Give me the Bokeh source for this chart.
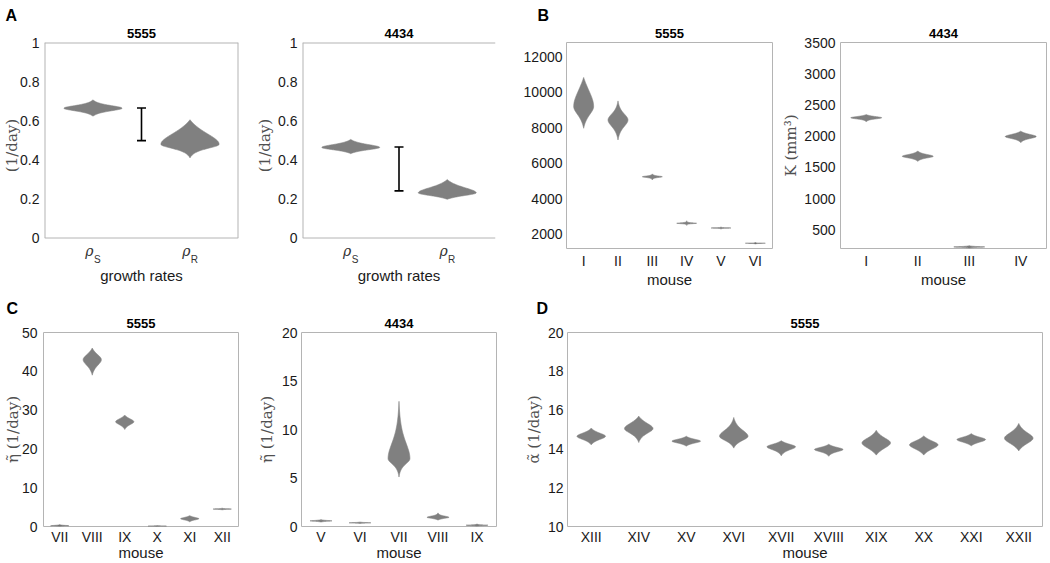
import numpy as np
from bokeh.plotting import figure
from bokeh.models import (Range1d, FixedTicker, Whisker, TeeHead, ColumnDataSource,
                          Title, LinearAxis)
from bokeh.layouts import row, column
from bokeh.embed import file_html
from bokeh.resources import INLINE

# ---------------- data ----------------
# A: growth rates
rate_subs = ["S", "R"]
a5555_lo = [0.622, 0.408]
a5555_lohalf = [0.646, 0.452]
a5555_mode = [0.663, 0.478]
a5555_hihalf = [0.680, 0.545]
a5555_hi = [0.706, 0.604]
a5555_err = [0.497, 0.664]

a4434_lo = [0.430, 0.196]
a4434_lohalf = [0.447, 0.212]
a4434_mode = [0.462, 0.229]
a4434_hihalf = [0.480, 0.262]
a4434_hi = [0.503, 0.297]
a4434_err = [0.239, 0.464]

a_yticks = [0, 0.2, 0.4, 0.6, 0.8, 1]
a_yticklabels = ["0", "0.2", "0.4", "0.6", "0.8", "1"]

# B: carrying capacity K
b5555_mice = ["I", "II", "III", "IV", "V", "VI"]
b5555_lo = [7970, 7310, 5060, 2500, 2300, 1450]
b5555_lohalf = [8630, 7970, 5190, 2595, 2340, 1485]
b5555_mode = [9195, 8440, 5240, 2620, 2355, 1495]
b5555_hihalf = [10220, 8870, 5290, 2650, 2370, 1505]
b5555_hi = [10830, 9510, 5400, 2760, 2410, 1545]
b5555_yticks = [2000, 4000, 6000, 8000, 10000, 12000]

b4434_mice = ["I", "II", "III", "IV"]
b4434_lo = [2230, 1596, 205, 1897]
b4434_lohalf = [2272, 1645, 218, 1955]
b4434_mode = [2294, 1677, 225, 1993]
b4434_hihalf = [2318, 1712, 232, 2035]
b4434_hi = [2345, 1763, 245, 2079]
b4434_yticks = [500, 1000, 1500, 2000, 2500, 3000, 3500]

# C: eta tilde
c5555_mice = ["VII", "VIII", "IX", "X", "XI", "XII"]
c5555_lo = [0.0, 39.0, 25.0, 0.0, 1.2, 4.3]
c5555_lohalf = [0.1, 41.2, 26.1, 0.05, 1.65, 4.42]
c5555_mode = [0.2, 43.0, 27.0, 0.1, 2.0, 4.5]
c5555_hihalf = [0.3, 44.6, 27.9, 0.15, 2.4, 4.58]
c5555_hi = [0.5, 46.0, 28.7, 0.25, 2.8, 4.7]
c5555_yticks = [0, 10, 20, 30, 40, 50]

c4434_mice = ["V", "VI", "VII", "VIII", "IX"]
c4434_lo = [0.45, 0.30, 5.1, 0.65, 0.03]
c4434_lohalf = [0.53, 0.35, 6.3, 0.82, 0.09]
c4434_mode = [0.58, 0.38, 7.0, 0.95, 0.13]
c4434_hihalf = [0.63, 0.41, 9.1, 1.1, 0.17]
c4434_hi = [0.72, 0.46, 12.9, 1.4, 0.25]
c4434_yticks = [0, 5, 10, 15, 20]

# D: alpha tilde
d_mice = ["XIII", "XIV", "XV", "XVI", "XVII", "XVIII", "XIX", "XX", "XXI", "XXII"]
d_lo = [14.21, 14.33, 14.14, 14.04, 13.64, 13.62, 13.68, 13.68, 14.16, 13.90]
d_lohalf = [14.45, 14.75, 14.28, 14.38, 13.92, 13.83, 13.98, 13.95, 14.32, 14.22]
d_mode = [14.65, 15.05, 14.40, 14.65, 14.11, 13.97, 14.31, 14.21, 14.48, 14.55]
d_hihalf = [14.85, 15.38, 14.52, 15.05, 14.27, 14.10, 14.62, 14.45, 14.63, 14.90]
d_hi = [15.07, 15.69, 14.65, 15.62, 14.42, 14.24, 14.96, 14.67, 14.79, 15.31]
d_yticks = [10, 12, 14, 16, 18, 20]

# ---------------- style ----------------
SANS = "Liberation Sans"
SERIF = "DejaVu Serif"
VIOLIN = "#808080"
FRAME = "#b4b4b4"
TXT = "#1a1a1a"
YLAB = "#505050"

H1, H2 = 290, 273          # row heights
BT1, BB1 = 42, 42          # row 1 borders (frame 206 px)
BT2, BB2 = 42, 37          # row 2 borders (frame 194 px)


def violin_patch(xc, lo, lh, m, hh, hi, W=0.3, n=60):
    ys_dn = np.linspace(lo, m, n)
    ys_up = np.linspace(m, hi, n)[1:]

    def half(d, h, D):
        h = max(h, 1e-9)
        D = max(D, 1e-9)
        g = 1.0 / (1.0 + (np.sqrt(2.0) - 1.0) * (d / h) ** 2) ** 2
        t = np.clip(1.0 - (d / D) ** 4, 0.0, 1.0)
        return W * g * t

    w = np.concatenate([half(m - ys_dn, m - lh, m - lo), half(ys_up - m, hh - m, hi - m)])
    ys = np.concatenate([ys_dn, ys_up])
    xs = np.concatenate([xc - w, (xc + w)[::-1]])
    yy = np.concatenate([ys, ys[::-1]])
    return list(xs), list(yy)


def style_axis(ax, standoff):
    ax.axis_line_color = None
    ax.major_tick_line_color = None
    ax.minor_tick_line_color = None
    ax.major_tick_in = 0
    ax.major_tick_out = 0
    ax.minor_tick_in = 0
    ax.minor_tick_out = 0
    ax.major_label_text_font = SANS
    ax.major_label_text_font_size = "14px"
    ax.major_label_text_color = TXT
    ax.major_label_standoff = standoff


def panel(width, height, bl, br, bt, bb, ncat, yr, yticks, title, title_standoff,
          xlabel, ylabel, xcats=None, yticklabels=None, ytick_stand=5, ylab_stand=1,
          xtick_stand=6, xlab_stand=0, letter=None, letter_offset=0,
          letter_standoff=0, letter_valign="bottom"):
    p = figure(width=width, height=height, x_range=Range1d(0.5, ncat + 0.5),
               y_range=Range1d(*yr), output_backend="svg", toolbar_location=None,
               min_border_left=bl, min_border_right=br, min_border_top=bt,
               min_border_bottom=bb)
    p.xgrid.visible = False
    p.ygrid.visible = False
    p.outline_line_color = FRAME
    p.outline_line_width = 1
    p.background_fill_color = "white"
    p.border_fill_color = "white"
    p.title.text = ""
    p.title.standoff = 0
    p.add_layout(Title(text=title, align="center", text_font=SANS, text_font_size="13px",
                       text_font_style="bold", text_color="black",
                       standoff=title_standoff), "above")
    if letter is not None:
        p.add_layout(Title(text=letter, align="left", offset=letter_offset,
                           vertical_align=letter_valign, standoff=letter_standoff,
                           text_font=SANS, text_font_size="16px", text_font_style="bold",
                           text_color="black"), "above")
    style_axis(p.xaxis[0], xtick_stand)
    style_axis(p.yaxis[0], ytick_stand)
    p.xaxis.ticker = FixedTicker(ticks=list(range(1, ncat + 1)))
    if xcats is not None:
        p.xaxis.major_label_overrides = {i + 1: c for i, c in enumerate(xcats)}
    if xlabel:
        p.xaxis.axis_label = xlabel
        p.xaxis.axis_label_text_font = SANS
        p.xaxis.axis_label_text_font_size = "15px"
        p.xaxis.axis_label_text_font_style = "normal"
        p.xaxis.axis_label_text_color = TXT
        p.xaxis.axis_label_standoff = xlab_stand
    p.yaxis.ticker = FixedTicker(ticks=yticks)
    if yticklabels is not None:
        p.yaxis.major_label_overrides = {t: l for t, l in zip(yticks, yticklabels)}
    if ylabel:
        p.yaxis.axis_label = ylabel
        p.yaxis.axis_label_text_font = SERIF
        p.yaxis.axis_label_text_font_size = "15px"
        p.yaxis.axis_label_text_font_style = "normal"
        p.yaxis.axis_label_text_color = YLAB
        p.yaxis.axis_label_standoff = ylab_stand
    return p


def add_violins(p, lo, lh, m, hh, hi, W=0.3):
    xs, ys = [], []
    for i in range(len(m)):
        x, y = violin_patch(i + 1, lo[i], lh[i], m[i], hh[i], hi[i], W=W)
        xs.append(x)
        ys.append(y)
    p.patches(xs=xs, ys=ys, fill_color=VIOLIN, line_color=VIOLIN, line_width=0.6)


def add_err(p, err):
    src = ColumnDataSource(dict(base=[1.5], lower=[err[0]], upper=[err[1]]))
    wk = Whisker(source=src, base="base", lower="lower", upper="upper", dimension="height",
                 line_color="black", line_width=1.6,
                 upper_head=TeeHead(size=9, line_width=1.6, line_color="black"),
                 lower_head=TeeHead(size=9, line_width=1.6, line_color="black"))
    p.add_layout(wk)


def growth_axes(p, right_side=True):
    # box drawn from y=0 to 1 (the frame itself reaches a little lower)
    p.outline_line_color = None
    yb = -0.5 / 195.0
    p.segment(x0=[0.5, 0.5], y0=[yb, 1.0], x1=[2.5, 2.5], y1=[yb, 1.0],
              line_color=FRAME, line_width=[1, 2])
    xs0 = [0.5] + ([2.5] if right_side else [])
    p.segment(x0=xs0, y0=[yb] * len(xs0), x1=xs0, y1=[1.0] * len(xs0),
              line_color=FRAME, line_width=2)
    # rho tick labels
    ax1 = p.xaxis[0]
    rho_t = [1 - 0.038, 2 - 0.038]
    ax1.ticker = FixedTicker(ticks=rho_t)
    ax1.major_label_overrides = {t: "ρ" for t in rho_t}
    ax1.major_label_text_font = SERIF
    ax1.major_label_text_font_style = "italic"
    ax1.major_label_text_font_size = "14px"
    ax1.major_label_text_color = "#333333"
    ax1.major_label_standoff = -6
    # subscripts + axis title on a second axis
    sub_t = [1 + 0.045, 2 + 0.045]
    ax2 = LinearAxis(ticker=FixedTicker(ticks=sub_t),
                     major_label_overrides={t: s for t, s in zip(sub_t, rate_subs)})
    style_axis(ax2, -8)
    ax2.major_label_text_font_size = "10px"
    ax2.major_label_text_color = "#333333"
    ax2.axis_label = "growth rates"
    ax2.axis_label_text_font = SANS
    ax2.axis_label_text_font_size = "15px"
    ax2.axis_label_text_font_style = "normal"
    ax2.axis_label_text_color = TXT
    ax2.axis_label_standoff = -1
    p.add_layout(ax2, "below")


A_YR = (-11.0 / 195.0, 1.0)

# ---------------- row 1 ----------------
pa1 = panel(253, H1, 43, 15, BT1, BB1, 2, A_YR, a_yticks, "5555", 10, None, "(1/day)",
            yticklabels=a_yticklabels, ytick_stand=5, ylab_stand=-4,
            letter="A", letter_offset=-39, letter_standoff=-8, letter_valign="top")
add_violins(pa1, a5555_lo, a5555_lohalf, a5555_mode, a5555_hihalf, a5555_hi)
add_err(pa1, a5555_err)
growth_axes(pa1, right_side=True)

pa2 = panel(265, H1, 47, 23, BT1, BB1, 2, A_YR, a_yticks, "4434", 10, None, "(1/day)",
            yticklabels=a_yticklabels, ytick_stand=5, ylab_stand=1)
add_violins(pa2, a4434_lo, a4434_lohalf, a4434_mode, a4434_hihalf, a4434_hi)
add_err(pa2, a4434_err)
growth_axes(pa2, right_side=False)

pb1 = panel(260, H1, 48, 6, BT1, BB1, 6, (1200, 12800), b5555_yticks, "5555", 10,
            "mouse", None, xcats=b5555_mice, ytick_stand=4, xtick_stand=4, xlab_stand=-1,
            letter="B", letter_offset=-29, letter_standoff=-8, letter_valign="top")
add_violins(pb1, b5555_lo, b5555_lohalf, b5555_mode, b5555_hihalf, b5555_hi, W=0.29)

pb2 = panel(272, H1, 62, 4, BT1, BB1, 4, (200, 3500), b4434_yticks, "4434", 10,
            "mouse", "K (mm³)", xcats=b4434_mice, ytick_stand=5, ylab_stand=1,
            xtick_stand=4, xlab_stand=-1)
add_violins(pb2, b4434_lo, b4434_lohalf, b4434_mode, b4434_hihalf, b4434_hi)

# ---------------- row 2 ----------------
pc1 = panel(254, H2, 42, 16, BT2, BB2, 6, (0, 50), c5555_yticks, "5555", 9, "mouse",
            "η̃ (1/day)", xcats=c5555_mice, ytick_stand=6, ylab_stand=-3,
            xtick_stand=2, xlab_stand=-4, letter="C", letter_offset=-37,
            letter_standoff=-9)
add_violins(pc1, c5555_lo, c5555_lohalf, c5555_mode, c5555_hihalf, c5555_hi, W=0.28)

pc2 = panel(267, H2, 46, 25, BT2, BB2, 5, (0, 20), c4434_yticks, "4434", 9, "mouse",
            "η̃ (1/day)", xcats=c4434_mice, ytick_stand=4, ylab_stand=3,
            xtick_stand=2, xlab_stand=-4)
add_violins(pc2, c4434_lo, c4434_lohalf, c4434_mode, c4434_hihalf, c4434_hi, W=0.28)

pd = panel(529, H2, 46, 8, BT2, BB2, 10, (10, 20), d_yticks, "5555", 9, "mouse",
           "α̃ (1/day)", xcats=d_mice, ytick_stand=4, ylab_stand=2,
           xtick_stand=2, xlab_stand=-4, letter="D", letter_offset=-31,
           letter_standoff=-9)
add_violins(pd, d_lo, d_lohalf, d_mode, d_hihalf, d_hi)

layout = column(row(pa1, pa2, pb1, pb2, spacing=0), row(pc1, pc2, pd, spacing=0), spacing=0)

open("out.html", "w").write(file_html(layout, INLINE))
